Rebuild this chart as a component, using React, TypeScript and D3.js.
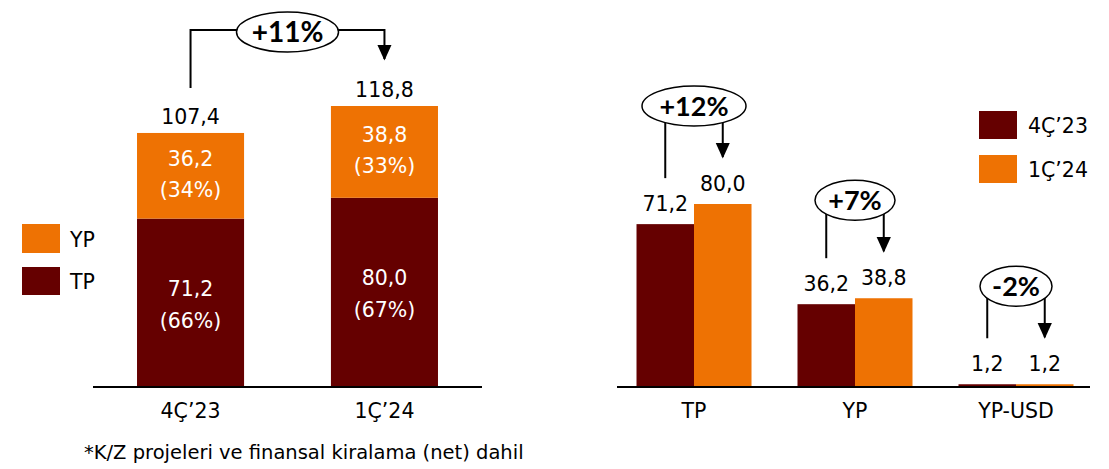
import React from 'react';
import * as d3 from 'd3';

// left chart: stacked
const periods = ['4Ç’23', '1Ç’24'];
const tpValues = [71.2, 80.0];
const ypValues = [36.2, 38.8];
const totals = [107.4, 118.8];
const tpShares = ['(66%)', '(67%)'];
const ypShares = ['(34%)', '(33%)'];
const totalChange = '+11%';

// right chart: grouped
const groups = ['TP', 'YP', 'YP-USD'];
const q4Values = [71.2, 36.2, 1.2];
const q1Values = [80.0, 38.8, 1.2];
const groupChanges = ['+12%', '+7%', '-2%'];

const DARK = '#650000';
const ORANGE = '#EE7203';
const FONT = "'DejaVu Sans', sans-serif";
const BOLD_FONT = "Lato, 'Open Sans', sans-serif";
const FS = 20.5;

const fmt = (v: number) => v.toFixed(1).replace('.', ',');

export default function App() {
  const width = 1109;
  const height = 469;
  const baseline = 387;

  // * left chart scales
  const xLeft = d3.scaleBand().domain(periods).range([93, 482]).paddingInner(0.448).paddingOuter(0.227);
  const yLeft = d3.scaleLinear().domain([0, 118.8]).range([baseline, 106]);

  // * right chart scales
  const xGroup = d3.scaleBand().domain(groups).range([613.5, 1096.5]).paddingInner(0.2857).paddingOuter(0.1429);
  const xSeries = d3.scaleBand().domain(['q4', 'q1']).range([0, xGroup.bandwidth()]);
  const yRight = d3.scaleLinear().domain([0, 80]).range([baseline, 204]);

  const cx0 = xLeft(periods[0])! + xLeft.bandwidth() / 2;
  const cx1 = xLeft(periods[1])! + xLeft.bandwidth() / 2;
  const arrowTopY = 30;
  const leftBubbleX = (cx0 + cx1) / 2;

  const ellipseRx = [52, 40, 36];

  return (
    <svg width={width} height={height} style={{ position: 'absolute', left: 0, top: 0 }}>
      <defs>
        <marker id="arrowHead" viewBox="0 0 10 10" refX="9" refY="5" markerWidth="8" markerHeight="8" orient="auto" markerUnits="strokeWidth">
          <path d="M0,0.5 L10,5 L0,9.5 z" fill="#000" />
        </marker>
      </defs>

      {/* Left legend */}
      <rect x={22} y={224} width={38} height={29} fill={ORANGE} />
      <text x={70} y={247} fontFamily={FONT} fontSize={FS} fill="#000">YP</text>
      <rect x={22} y={267} width={38} height={28} fill={DARK} />
      <text x={70} y={289} fontFamily={FONT} fontSize={FS} fill="#000">TP</text>

      {/* Left stacked bars */}
      {periods.map((p, i) => {
        const x = xLeft(p)!;
        const w = xLeft.bandwidth();
        const tpTop = yLeft(tpValues[i]);
        const ypTop = yLeft(tpValues[i] + ypValues[i]);
        const tpMid = (tpTop + baseline) / 2;
        const ypMid = (ypTop + tpTop) / 2;
        return (
          <g key={p}>
            <rect x={x} y={tpTop} width={w} height={baseline - tpTop} fill={DARK} />
            <rect x={x} y={ypTop} width={w} height={tpTop - ypTop} fill={ORANGE} />
            <text x={x + w / 2} y={ypMid - 10} textAnchor="middle" fontFamily={FONT} fontSize={FS} fill="#fff">{fmt(ypValues[i])}</text>
            <text x={x + w / 2} y={ypMid + 21} textAnchor="middle" fontFamily={FONT} fontSize={FS} fill="#fff">{ypShares[i]}</text>
            <text x={x + w / 2} y={tpMid - 7} textAnchor="middle" fontFamily={FONT} fontSize={FS} fill="#fff">{fmt(tpValues[i])}</text>
            <text x={x + w / 2} y={tpMid + 25} textAnchor="middle" fontFamily={FONT} fontSize={FS} fill="#fff">{tpShares[i]}</text>
            <text x={x + w / 2} y={yLeft(totals[i]) - 9} textAnchor="middle" fontFamily={FONT} fontSize={FS} fill="#000">{fmt(totals[i])}</text>
            <text x={x + w / 2} y={418} textAnchor="middle" fontFamily={FONT} fontSize={FS} fill="#000">{p}</text>
          </g>
        );
      })}
      <line x1={93} x2={482} y1={baseline} y2={baseline} stroke="#000" strokeWidth={2} />

      {/* Left arrow */}
      <path
        d={`M${cx0},${yLeft(totals[0]) - 45} V${arrowTopY} H${cx1} V${yLeft(totals[1]) - 47}`}
        fill="none" stroke="#000" strokeWidth={2} markerEnd="url(#arrowHead)"
      />
      <ellipse cx={leftBubbleX} cy={32} rx={51} ry={20} fill="#fff" stroke="#000" strokeWidth={1.5} />
      <text x={leftBubbleX} y={42} textAnchor="middle" fontFamily={BOLD_FONT} fontWeight="bold" fontSize={28} fill="#000">{totalChange}</text>

      {/* Footnote */}
      <text x={84} y={459} fontFamily={FONT} fontSize={19.5} fill="#000">*K/Z projeleri ve finansal kiralama (net) dahil</text>

      {/* Right grouped bars */}
      {groups.map((g, i) => {
        const gx = xGroup(g)!;
        const bw = xSeries.bandwidth();
        const xa = gx + xSeries('q4')!;
        const xb = gx + xSeries('q1')!;
        const ya = yRight(q4Values[i]);
        const yb = yRight(q1Values[i]);
        const ca = xa + bw / 2;
        const cb = xb + bw / 2;
        const cy = yb - 98;
        const mid = gx + xGroup.bandwidth() / 2;
        return (
          <g key={g}>
            <rect x={xa} y={ya} width={bw} height={baseline - ya} fill={DARK} />
            <rect x={xb} y={yb} width={bw} height={baseline - yb} fill={ORANGE} />
            <text x={ca} y={ya - 13} textAnchor="middle" fontFamily={FONT} fontSize={FS} fill="#000">{fmt(q4Values[i])}</text>
            <text x={cb} y={yb - 13} textAnchor="middle" fontFamily={FONT} fontSize={FS} fill="#000">{fmt(q1Values[i])}</text>
            <text x={mid} y={418} textAnchor="middle" fontFamily={FONT} fontSize={FS} fill="#000">{g}</text>
            <line x1={ca} x2={ca} y1={cy} y2={ya - 46} stroke="#000" strokeWidth={2} />
            <line x1={cb} x2={cb} y1={cy} y2={yb - 47} stroke="#000" strokeWidth={2} markerEnd="url(#arrowHead)" />
            <ellipse cx={mid} cy={cy} rx={ellipseRx[i]} ry={20} fill="#fff" stroke="#000" strokeWidth={1.5} />
            <text x={mid} y={cy + 10} textAnchor="middle" fontFamily={BOLD_FONT} fontWeight="bold" fontSize={27} fill="#000">{groupChanges[i]}</text>
          </g>
        );
      })}
      <line x1={617} x2={1090} y1={baseline} y2={baseline} stroke="#000" strokeWidth={2} />

      {/* Right legend */}
      <rect x={979} y={111} width={38} height={28} fill={DARK} />
      <text x={1028} y={133} fontFamily={FONT} fontSize={FS} fill="#000">4Ç’23</text>
      <rect x={979} y={155} width={38} height={28} fill={ORANGE} />
      <text x={1028} y={177} fontFamily={FONT} fontSize={FS} fill="#000">1Ç’24</text>
    </svg>
  );
}
